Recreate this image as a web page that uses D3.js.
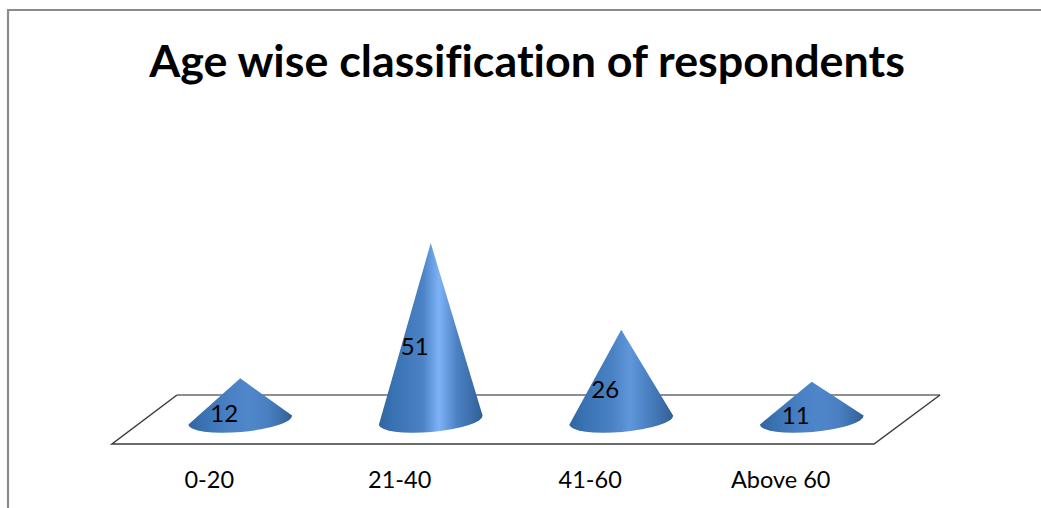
<!DOCTYPE html>
<html><head><meta charset="utf-8">
<script src="https://cdnjs.cloudflare.com/ajax/libs/d3/7.8.5/d3.min.js"></script>
<style>html,body{margin:0;background:#fff;overflow:hidden}svg{display:block}text{font-family:Lato,Carlito,sans-serif;fill:#000;font-variant-ligatures:none}</style>
</head><body><svg id="c" width="1041" height="508"></svg>
<script>
const title = "Age wise classification of respondents";
const categories = ["0-20","21-40","41-60","Above 60"];
const values = [12,51,26,11];

const svg = d3.select("#c");
const x = d3.scaleBand().domain(categories).range([145,907]);
const y = d3.scaleLinear().domain([0,51]).range([420,243]);
const rx = 52, ry = 12, tilt = -5, depthShift = -31;
const rad = tilt*Math.PI/180;

// outer frame
svg.append("path").attr("d","M8,508V10H1041").attr("fill","none").attr("stroke","#8c8c8c").attr("stroke-width",2.2);
svg.append("text").attr("x",527).attr("y",77).attr("text-anchor","middle").attr("font-size",44.8).attr("font-weight",700).text(title);

// floor
svg.append("path").attr("d","M177,395H940").attr("fill","none").attr("stroke","#8f8f8f").attr("stroke-width",2);
svg.append("path").attr("d","M940,395L874,444H112L177,395").attr("fill","none").attr("stroke","#3c3c3c").attr("stroke-width",1.5);

const defs = svg.append("defs");
const hi = d3.scaleLinear().domain([11,51]).range(["#4f86ca","#7db3f6"]);
values.forEach((v,i)=>{
  const g = defs.append("linearGradient").attr("id","g"+i);
  [[0,"#30659f"],[.15,"#3a73b4"],[.42,"#4a82c5"],[.58,hi(v)],[.76,"#4a80c2"],[.92,"#3a6ba6"],[1,"#2f5e95"]]
    .forEach(([o,c])=>g.append("stop").attr("offset",o).attr("stop-color",c));
});

const cx = c => x(c)+x.bandwidth()/2;
svg.selectAll("path.cone").data(values).join("path").attr("class","cone")
  .attr("fill",(d,i)=>`url(#g${i})`)
  .attr("d",(d,i)=>{
    const c = cx(categories[i]), b = y(0);
    const dx = rx*Math.cos(rad), dy = rx*Math.sin(rad);
    return `M${c},${y(d)}L${c+dx},${b+dy}A${rx},${ry} ${tilt} 0 1 ${c-dx},${b-dy}Z`;
  });

svg.selectAll("text.val").data(values).join("text").attr("class","val")
  .attr("x",(d,i)=>cx(categories[i])-16)
  .attr("y",d=>y(0)-(y(0)-y(d))/2+15+8)
  .attr("text-anchor","middle").attr("font-size",24).text(d=>d);

svg.selectAll("text.cat").data(categories).join("text").attr("class","cat")
  .attr("x",d=>cx(d)+depthShift)
  .attr("y",488).attr("text-anchor","middle").attr("font-size",23.5).text(d=>d);
</script></body></html>
